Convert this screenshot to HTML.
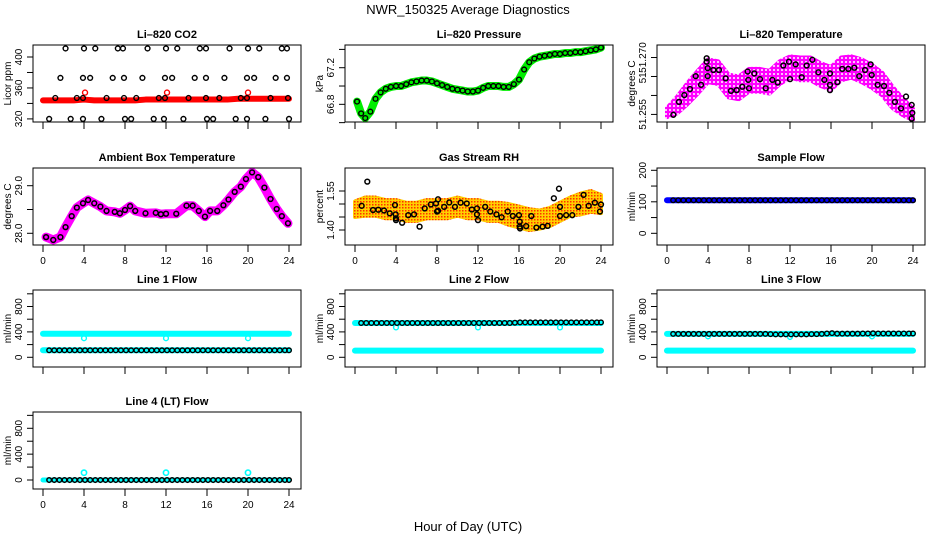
<!DOCTYPE html>
<html><head><meta charset="utf-8">
<style>
html,body{margin:0;padding:0;background:#fff;}
svg{display:block;font-family:"Liberation Sans",sans-serif;}
</style></head>
<body>
<svg id="chart" width="936" height="540" viewBox="0 0 936 540" xmlns="http://www.w3.org/2000/svg">
<defs>
<pattern id="pOrange" width="3" height="3" patternUnits="userSpaceOnUse"><rect width="3" height="3" fill="#ffd000"/><rect x="0" y="0" width="1.5" height="1.5" fill="#ff3000"/></pattern>
<pattern id="pMag" width="4" height="4" patternUnits="userSpaceOnUse"><rect width="4" height="4" fill="#ff00ff"/><rect x="1" y="1" width="2" height="2" fill="#ffc0ff"/></pattern>
</defs>
<text x="468" y="14" font-size="13" text-anchor="middle">NWR_150325  Average Diagnostics</text>
<text x="468" y="531" font-size="13" text-anchor="middle">Hour of Day (UTC)</text>
</svg>
<script>
// ---------- data ----------
const xTicks = [0,4,8,12,16,20,24];
// CO2
const co2BandHours = [0,1,2,3,4,5,6,7,8,9,10,11,12,13,14,15,16,17,18,19,20,21,22,23,24];
const co2BandVals = [344,344,344,344,345,344,344,344,344,344,345,345,345,345,345,345,345,345,345,346,346,346,346,346,346];
const co2RedHours = [4.1,12.1,20.0];
const co2RedVals = [354,354,354];
const co2BlackHours = [2.2,4.0,5.1,7.3,7.8,10.2,12.0,13.1,15.3,15.9,18.2,20.0,21.1,23.3,23.8,
 1.7,3.9,4.6,6.8,7.9,9.7,11.9,12.6,14.8,15.9,17.7,19.9,20.6,22.7,23.8,
 1.2,3.3,3.9,6.2,7.9,9.1,11.3,11.9,14.2,15.9,17.2,19.3,19.9,22.2,23.9,
 0.6,2.7,3.9,5.7,8.0,8.6,10.8,11.8,13.7,16.0,16.6,18.8,19.9,21.7,24.0];
const co2BlackVals = [411,411,411,411,411,411,411,411,411,411,411,411,411,411,411,
 373,373,373,373,373,373,373,373,373,373,373,373,373,373,373,
 347,347,347,347,347,347,347,347,347,347,347,347,347,347,347,
 320,320,320,320,320,320,320,320,320,320,320,320,320,320,320];
// Pressure
const pressHours = [0.2,0.6,1.0,1.5,2.0,2.5,3,3.5,4,4.5,5,5.5,6,6.5,7,7.5,8,8.5,9,9.5,10,10.5,11,11.5,12,12.5,13,13.5,14,14.5,15,15.5,16,16.5,17,17.5,18,18.5,19,19.5,20,20.5,21,21.5,22,22.5,23,23.5,24];
const pressVals = [66.83,66.70,66.65,66.72,66.86,66.93,66.97,66.99,67.00,67.00,67.02,67.04,67.05,67.06,67.06,67.05,67.03,67.01,66.99,66.97,66.96,66.95,66.94,66.94,66.95,66.98,67.00,67.00,67.00,66.99,66.99,67.02,67.07,67.18,67.26,67.30,67.32,67.33,67.34,67.35,67.35,67.36,67.36,67.37,67.37,67.38,67.39,67.40,67.42];
// Li-820 temperature
const tempCloudHours = [0,1,2,3,4,5,6,7,8,9,10,11,12,13,14,15,16,17,18,19,20,21,22,23,24];
const tempCloudVals = [51.2555,51.2575,51.2605,51.2635,51.2665,51.2660,51.2625,51.2620,51.2640,51.2640,51.2635,51.2660,51.2675,51.2670,51.2670,51.2655,51.2645,51.2670,51.2675,51.2665,51.2650,51.2630,51.2595,51.2570,51.2550];
const tempCloudSpread = [0.0012,0.0022,0.0028,0.0030,0.0030,0.0030,0.0030,0.0030,0.0030,0.0030,0.0030,0.0030,0.0028,0.0030,0.0030,0.0030,0.0030,0.0030,0.0028,0.0030,0.0030,0.0030,0.0028,0.0022,0.0015];
const tempBlackHours = [0.62,1.17,1.69,2.24,2.80,3.32,3.87,3.87,3.97,3.97,4.52,5.07,5.72,6.24,6.80,7.35,7.87,7.93,8.0,8.52,9.07,9.63,10.28,10.80,11.35,11.90,12.0,12.55,13.14,13.63,14.18,14.77,15.35,15.90,15.90,15.90,16.62,17.10,17.69,18.28,18.76,19.32,19.87,19.97,20.55,21.17,21.69,22.24,22.83,23.32,23.87,23.93,23.87];
const tempBlackVals = [51.2549,51.2583,51.2601,51.2617,51.2651,51.2628,51.2698,51.2689,51.2672,51.2651,51.2667,51.2667,51.2645,51.2612,51.2614,51.2623,51.2663,51.2641,51.2619,51.2658,51.2643,51.2619,51.2641,51.2634,51.2679,51.2689,51.2643,51.2682,51.2648,51.2679,51.2694,51.2661,51.2641,51.2658,51.2628,51.2614,51.2635,51.2670,51.2670,51.2673,51.2651,51.2667,51.2682,51.2654,51.2628,51.2625,51.2607,51.2583,51.2566,51.2597,51.2575,51.2554,51.2539];
// Ambient box temperature
const ambHours = [0.3,1.0,1.7,2.2,2.8,3.3,3.9,4.4,5.0,5.6,6.2,7.0,7.5,8.0,8.5,9.0,10.0,11.0,11.5,12.0,13.0,14.0,14.6,15.2,15.8,16.3,17.0,17.6,18.1,18.7,19.3,19.8,20.4,21.0,21.6,22.2,22.8,23.3,23.9];
const ambVals = [27.92,27.86,27.92,28.13,28.36,28.54,28.63,28.70,28.63,28.56,28.47,28.45,28.42,28.49,28.57,28.47,28.42,28.43,28.40,28.41,28.41,28.58,28.58,28.47,28.35,28.47,28.47,28.59,28.71,28.87,28.98,29.14,29.28,29.18,28.96,28.72,28.51,28.36,28.21];
// Gas stream RH
const rhCloudHours = [0,1,2,3,4,5,6,7,8,9,10,11,12,13,14,15,16,17,18,19,20,21,22,23,24];
const rhCloudVals = [1.48,1.49,1.49,1.48,1.48,1.47,1.47,1.48,1.48,1.48,1.49,1.48,1.48,1.47,1.47,1.46,1.45,1.44,1.44,1.45,1.47,1.49,1.50,1.51,1.50];
const rhBlackHours = [0.65,1.2,1.76,2.28,2.83,3.39,3.9,3.97,4.0,4.0,4.6,5.2,5.76,6.3,6.8,7.4,7.9,8.0,8.1,8.1,8.7,9.2,9.75,10.3,10.9,11.4,11.9,11.9,12.0,12.7,13.2,13.8,14.3,14.9,15.4,16.0,16.07,16.07,16.1,16.7,17.2,17.7,18.3,18.8,19.4,19.9,20.0,20.0,20.6,21.2,21.8,22.3,22.8,23.4,23.9,24.0];
const rhBlackVals = [1.493,1.586,1.477,1.478,1.475,1.464,1.496,1.460,1.438,1.445,1.428,1.457,1.460,1.413,1.483,1.498,1.502,1.471,1.474,1.518,1.489,1.506,1.489,1.505,1.502,1.479,1.483,1.460,1.438,1.489,1.471,1.460,1.449,1.471,1.454,1.457,1.432,1.413,1.406,1.415,1.454,1.409,1.413,1.416,1.522,1.559,1.489,1.454,1.457,1.457,1.489,1.535,1.493,1.505,1.471,1.498];
// Flows
const flowHours = [0.6,1.1,1.6,2.1,2.6,3.1,3.6,4.1,4.6,5.1,5.6,6.1,6.6,7.1,7.6,8.1,8.6,9.1,9.6,10.1,10.6,11.1,11.6,12.1,12.6,13.1,13.6,14.1,14.6,15.1,15.6,16.1,16.6,17.1,17.6,18.1,18.6,19.1,19.6,20.1,20.6,21.1,21.6,22.1,22.6,23.1,23.6,24.0];
const bandHours = [0,1,2,3,4,5,6,7,8,9,10,11,12,13,14,15,16,17,18,19,20,21,22,23,24];
const sampleBand = [105,105,105,105,105,105,105,105,105,105,105,105,105,105,105,105,105,105,105,105,105,105,105,105,105];
const sampleBlack = [105,105,105,105,105,105,105,105,105,105,105,105,105,105,105,105,105,105,105,105,105,105,105,105,105,105,105,105,105,105,105,105,105,105,105,105,105,105,105,105,105,105,105,105,105,105,105,105];
const line1CyanHi = [370,370,370,370,370,370,370,370,370,370,370,370,370,370,370,370,370,370,370,370,370,370,370,370,370];
const line1CyanLo = [110,110,110,110,110,110,110,110,110,110,110,110,110,110,110,110,110,110,110,110,110,110,110,110,110];
const line1Black = [110,110,110,110,110,110,110,110,110,110,110,110,110,110,110,110,110,110,110,110,110,110,110,110,110,110,110,110,110,110,110,110,110,110,110,110,110,110,110,110,110,110,110,110,110,110,110,110];
const line1DipHours = [4,12,20];
const line1DipVals = [300,300,300];
const line2CyanHi = [540,540,540,540,540,540,540,540,540,540,540,540,540,540,540,540,540,540,540,540,540,540,540,540,540];
const line2CyanLo = [105,105,105,105,105,105,105,105,105,105,105,105,105,105,105,105,105,105,105,105,105,105,105,105,105];
const line2Black = [540,540,540,540,540,540,540,540,540,540,540,540,540,540,540,540,540,540,540,540,540,540,540,540,540,540,540,540,540,540,545,550,550,550,550,550,550,550,550,550,550,550,550,550,550,550,550,550];
const line2DipHours = [4,12,20];
const line2DipVals = [470,470,470];
const line3CyanHi = [368,368,368,368,368,368,368,368,368,368,368,368,368,368,368,368,368,368,368,368,368,368,368,368,368];
const line3CyanLo = [105,105,105,105,105,105,105,105,105,105,105,105,105,105,105,105,105,105,105,105,105,105,105,105,105];
const line3Black = [368,368,368,368,368,368,368,368,368,368,368,368,368,368,368,368,368,368,368,365,360,360,360,360,360,360,360,365,365,368,375,380,372,372,372,372,372,375,375,378,375,375,375,375,375,375,375,375];
const line3DipHours = [4,12,20];
const line3DipVals = [330,320,330];
const line4Cyan = [0,0,0,0,0,0,0,0,0,0,0,0,0,0,0,0,0,0,0,0,0,0,0,0,0];
const line4Black = [0,0,0,0,0,0,0,0,0,0,0,0,0,0,0,0,0,0,0,0,0,0,0,0,0,0,0,0,0,0,0,0,0,0,0,0,0,0,0,0,0,0,0,0,0,0,0,0];
const line4SpikeHours = [4,12,20];
const line4SpikeVals = [113,113,113];

// ---------- drawing ----------
const NS = 'http://www.w3.org/2000/svg';
const svg = document.getElementById('chart');
const rowTops = [45,168,290,412];
const BOX_H = 77, X0 = 43, PPH = 10.25, COLW = 312;
function mk(tag, attrs){const e=document.createElementNS(NS,tag);for(const k in attrs)e.setAttribute(k,attrs[k]);return e;}

function panel(row,col,name,title,ylab,dom,ticks,labels,showX){
  const g=mk('g',{});
  
  
  svg.appendChild(g);
  const x0=X0+col*COLW, top=rowTops[row], bot=top+BOX_H, left=x0-10, right=x0+258;
  const sx=h=>x0+h*PPH;
  const sy=v=>bot-(v-dom[0])/(dom[1]-dom[0])*BOX_H;
  const clip=mk('clipPath',{id:'c'+name});
  clip.appendChild(mk('rect',{x:left,y:top,width:right-left,height:BOX_H}));
  g.appendChild(clip);
  const plot=mk('g',{'clip-path':'url(#c'+name+')'});
  
  
  g.appendChild(plot);
  const t=mk('text',{x:(left+right)/2,y:top-7,'font-size':11,'font-weight':'bold','text-anchor':'middle'});
  t.textContent=title;
  
  
  g.appendChild(t);
  const box=mk('rect',{x:left,y:top,width:right-left,height:BOX_H,fill:'none',stroke:'#000','stroke-width':1});
  
  
  g.appendChild(box);
  xTicks.forEach(h=>{
    const l=mk('line',{x1:sx(h),x2:sx(h),y1:bot,y2:bot+7,stroke:'#000'});
    
    
    g.appendChild(l);
    if(showX){
      const tx=mk('text',{x:sx(h),y:bot+19,'font-size':10,'text-anchor':'middle'});
      tx.textContent=String(h);
      
      
      g.appendChild(tx);
    }
  });
  ticks.forEach((v,i)=>{
    const y=sy(v);
    const l=mk('line',{x1:left-6,x2:left,y1:y,y2:y,stroke:'#000'});
    
    
    g.appendChild(l);
    if(labels[i]){
      const tx=mk('text',{x:left-11,y:y,'font-size':10,'text-anchor':'middle',transform:'rotate(-90 '+(left-11)+' '+y+')'});
      tx.textContent=labels[i];
      
      
      g.appendChild(tx);
    }
  });
  const yl=mk('text',{x:left-22,y:(top+bot)/2,'font-size':10,'text-anchor':'middle',transform:'rotate(-90 '+(left-22)+' '+((top+bot)/2)+')'});
  yl.textContent=ylab;
  
  
  g.appendChild(yl);
  return {g:plot,sx,sy};
}
function points(p,hs,vs,color,r,sw,nm){
  hs.forEach((h,i)=>{
    const c=mk('circle',{cx:p.sx(h),cy:p.sy(vs[i]),r:r,fill:'none',stroke:color,'stroke-width':sw});
    
    
    p.g.appendChild(c);
  });
}
function band(p,hs,vs,color,w,nm){
  const pl=mk('polyline',{points:hs.map((h,i)=>p.sx(h)+','+p.sy(vs[i])).join(' '),fill:'none',stroke:color,'stroke-width':w,'stroke-linejoin':'round','stroke-linecap':'round'});
  
  
  p.g.appendChild(pl);
}
function cloud(p,hs,vs,sp,fill,nm){
  const up=hs.map((h,i)=>p.sx(h)+','+p.sy(vs[i]+sp[i]));
  const dn=hs.map((h,i)=>p.sx(h)+','+p.sy(vs[i]-sp[i])).reverse();
  const pg=mk('polygon',{points:up.concat(dn).join(' '),fill:fill,stroke:fill,'stroke-width':4,'stroke-linejoin':'round'});
  
  
  p.g.appendChild(pg);
}

// Row 1
let p=panel(0,0,'co2-panel','Li\u2013820 CO2','Licor ppm',[316,415.5],[320,340,360,380,400],['320','','360','','400'],false);
band(p,co2BandHours,co2BandVals,'#ff0000',6,'co2-red-band');
points(p,co2RedHours,co2RedVals,'#ff0000',2.5,1.4,'co2-red-point');
points(p,co2BlackHours,co2BlackVals,'#000',2.4,1.4,'co2-black-point');

p=panel(0,1,'pressure-panel','Li\u2013820 Pressure','kPa',[66.607,67.448],[66.6,66.8,67.0,67.2,67.4],['','66.8','','67.2',''],false);
band(p,pressHours,pressVals,'#00ee00',8,'pressure-green-band');
points(p,pressHours,pressVals,'#000',2.4,1.4,'pressure-black-point');

p=panel(0,2,'li820-temp-panel','Li\u2013820 Temperature','degrees C',[51.2530,51.2733],[51.255,51.260,51.265,51.270],['51.255','','51.','51.270'],false);
cloud(p,tempCloudHours,tempCloudVals,tempCloudSpread,'url(#pMag)','temp-magenta-cloud');
points(p,tempBlackHours,tempBlackVals,'#000',2.4,1.5,'temp-black-point');

// Row 2
p=panel(1,0,'ambient-panel','Ambient Box Temperature','degrees C',[27.754,29.372],[28.0,28.5,29.0],['28.0','','29.0'],true);
band(p,ambHours,ambVals,'#ff00ff',9,'ambient-magenta-band');
points(p,ambHours,ambVals,'#000',2.4,1.5,'ambient-black-point');

p=panel(1,1,'rh-panel','Gas Stream RH','percent',[1.3423,1.6385],[1.40,1.45,1.50,1.55],['1.40','','','1.55'],true);
const rhSpread=[0.03,0.035,0.035,0.035,0.035,0.035,0.035,0.035,0.035,0.035,0.035,0.035,0.035,0.035,0.035,0.04,0.04,0.04,0.035,0.035,0.035,0.035,0.04,0.04,0.035];
cloud(p,rhCloudHours,rhCloudVals,rhSpread,'url(#pOrange)','rh-orange-cloud');
points(p,rhBlackHours,rhBlackVals,'#000',2.4,1.5,'rh-black-point');

p=panel(1,2,'sample-flow-panel','Sample Flow','ml/min',[-37.1,207.3],[0,50,100,150,200],['0','','100','','200'],true);
band(p,bandHours,sampleBand,'#0000ff',6,'sample-blue-band');
points(p,flowHours,sampleBlack,'#000',2.3,1.4,'sample-black-point');

// Row 3
const flowDom=[-153,1060], flowTicks=[0,200,400,600,800,1000], flowLabels=['0','','400','','800',''];
p=panel(2,0,'line1-panel','Line 1 Flow','ml/min',flowDom,flowTicks,flowLabels,false);
band(p,bandHours,line1CyanHi,'#00ffff',6,'line1-cyan-band-high');
band(p,bandHours,line1CyanLo,'#00ffff',6,'line1-cyan-band-low');
points(p,line1DipHours,line1DipVals,'#00ffff',2.4,1.4,'line1-cyan-dip');
points(p,flowHours,line1Black,'#000',2.3,1.4,'line1-black-point');

p=panel(2,1,'line2-panel','Line 2 Flow','ml/min',flowDom,flowTicks,flowLabels,false);
band(p,bandHours,line2CyanHi,'#00ffff',6,'line2-cyan-band-high');
band(p,bandHours,line2CyanLo,'#00ffff',6,'line2-cyan-band-low');
points(p,line2DipHours,line2DipVals,'#00ffff',2.4,1.4,'line2-cyan-dip');
points(p,flowHours,line2Black,'#000',2.3,1.4,'line2-black-point');

p=panel(2,2,'line3-panel','Line 3 Flow','ml/min',flowDom,flowTicks,flowLabels,false);
band(p,bandHours,line3CyanHi,'#00ffff',6,'line3-cyan-band-high');
band(p,bandHours,line3CyanLo,'#00ffff',6,'line3-cyan-band-low');
points(p,line3DipHours,line3DipVals,'#00ffff',2.4,1.4,'line3-cyan-dip');
points(p,flowHours,line3Black,'#000',2.3,1.4,'line3-black-point');

// Row 4
p=panel(3,0,'line4-panel','Line 4 (LT) Flow','ml/min',[-139,1052],flowTicks,flowLabels,true);
band(p,bandHours,line4Cyan,'#00ffff',5,'line4-cyan-band');
points(p,line4SpikeHours,line4SpikeVals,'#00ffff',2.6,1.6,'line4-cyan-spike');
points(p,flowHours,line4Black,'#000',2.3,1.5,'line4-black-point');
</script>
</body></html>
